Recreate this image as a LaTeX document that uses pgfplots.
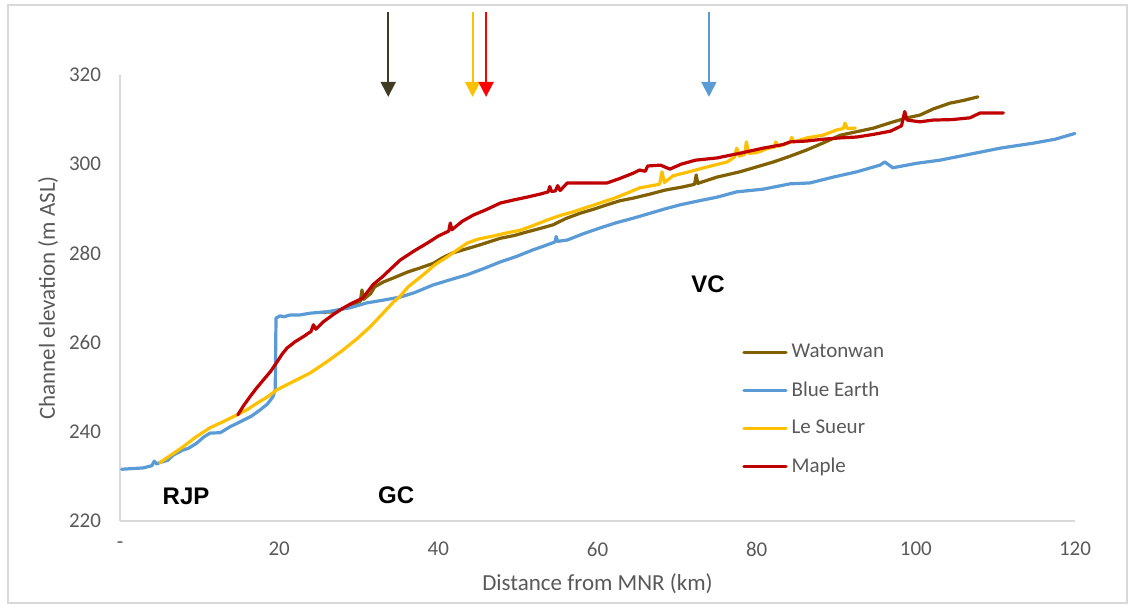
\documentclass[border=0pt]{standalone}
\usepackage{pgfplots}
\pgfplotsset{compat=1.18}
\usepackage{fontspec}
\setmainfont{Carlito}
\newfontfamily\arialfont{Liberation Sans}
\usetikzlibrary{arrows.meta}

\definecolor{watonwan}{HTML}{806000}
\definecolor{blueearth}{HTML}{5B9BD5}
\definecolor{lesueur}{HTML}{FFC000}
\definecolor{maple}{HTML}{C00000}
\definecolor{txtgray}{HTML}{595959}
\definecolor{axgray}{HTML}{D9D9D9}
\definecolor{darkarrow}{HTML}{403C24}

\begin{document}
\begin{tikzpicture}
\begin{axis}[
    scale only axis,
    width=477.5pt, height=223pt,
    xmin=0, xmax=120, ymin=220, ymax=320,
    xtick={0,20,40,60,80,100,120},
    xticklabels={-,20,40,60,80,100,120},
    ytick={220,240,260,280,300,320},
    /pgf/number format/assume math mode=true,
    axis x line*=bottom, axis y line*=left,
    axis line style={axgray, line width=0.75pt, -},
    major tick length=0pt,
    tick label style={font=\fontsize{10.5}{12}\selectfont, text=txtgray},
    xticklabel style={yshift=-7pt},
    yticklabel style={xshift=-6pt},
    label style={font=\fontsize{11.5}{13}\selectfont, text=txtgray},
    xlabel={Distance from MNR (km)},
    ylabel={Channel elevation (m ASL)},
    xlabel style={at={(rel axis cs:0.5,-0.141)}, anchor=center},
    ylabel style={at={(rel axis cs:-0.0754,0.5)}, anchor=center},
    legend style={draw=none, fill=none, at={(rel axis cs:0.645,0.415)}, anchor=north west,
        font=\fontsize{10.5}{12}\selectfont, text=txtgray, row sep=6.5pt},
    legend cell align=left,
    legend image code/.code={\draw[#1, line width=1.6pt] (0pt,0pt) -- (21pt,0pt);},
    every axis plot/.append style={line width=1.6pt, line join=round, line cap=round},
    clip=false,
]

% Watonwan
\addplot[watonwan] coordinates {
    (25.5,266.8) (26.8,266.9) (28.0,267.6) (29.2,268.5) (30.2,269.3) (30.4,271.8) (30.6,269.7)
    (31.5,271.0) (32.0,272.5) (33.1,273.6) (34.5,274.6) (36.1,275.8) (37.8,276.8) (39.4,277.8)
    (40.5,279.0) (41.8,280.1) (43.5,281.0) (45.2,281.9) (47.8,283.4) (49.5,284.0) (51.1,284.8)
    (52.8,285.6) (54.4,286.4) (56.0,287.8) (57.8,289.0) (59.5,289.9) (61.2,290.9) (62.8,291.8)
    (64.5,292.4) (66.6,293.3) (68.5,294.2) (70.7,294.9) (72.2,295.5) (72.4,297.6) (72.6,295.7)
    (75.0,297.1) (77.9,298.3) (80.0,299.4) (82.1,300.5) (84.2,301.8) (86.3,303.2) (88.4,304.8)
    (90.5,306.5) (92.6,307.3) (94.7,308.1) (96.8,309.3) (98.9,310.4) (100.5,311.0) (102.2,312.4)
    (104.3,313.7) (106.0,314.3) (107.8,315.1)};
\addlegendentry{Watonwan}

% Blue Earth
\addplot[blueearth] coordinates {
    (0.2,231.6) (2.9,231.9) (4.0,232.4) (4.3,233.4) (4.6,232.8) (5.0,233.1) (6.0,233.6)
    (6.7,234.8) (7.9,235.9) (8.6,236.3) (9.6,237.4) (10.5,238.8) (11.3,239.7) (12.6,239.8)
    (13.8,241.1) (15.5,242.6) (16.5,243.5) (17.6,244.9) (18.5,246.2) (19.2,247.8) (19.5,249.4)
    (19.6,265.5) (20.1,266.0) (20.6,265.8) (21.4,266.2) (22.6,266.2) (23.9,266.6) (26.0,266.9)
    (28.9,267.8) (31.0,268.9) (33.0,269.5) (35.2,270.2) (37.0,271.2) (39.3,272.9) (41.5,274.1)
    (43.6,275.2) (45.7,276.6) (47.8,278.1) (49.8,279.3) (51.9,280.8) (53.5,281.8) (54.7,282.6)
    (54.8,283.8) (55.0,282.7) (56.2,283.0) (58.2,284.4) (60.3,285.7) (62.4,286.9) (64.5,287.9)
    (66.6,289.0) (68.5,290.0) (70.4,290.9) (72.5,291.7) (75.0,292.6) (77.5,293.8) (80.8,294.4)
    (84.2,295.6) (86.7,295.8) (89.6,297.1) (92.6,298.3) (95.5,299.8) (96.1,300.5) (97.1,299.2)
    (100.1,300.2) (103.0,300.9) (106.4,302.1) (110.6,303.6) (114.7,304.7) (117.5,305.6) (120.0,306.9)};
\addlegendentry{Blue Earth}

% Le Sueur
\addplot[lesueur] coordinates {
    (5.0,233.1) (6.5,234.9) (7.9,236.6) (9.5,238.8) (11.3,240.9) (13.0,242.3) (14.7,243.8)
    (16.0,245.0) (17.2,246.4) (18.5,247.8) (19.7,249.4) (21.8,251.3) (23.9,253.2) (26.0,255.7)
    (28.0,258.3) (29.8,260.9) (31.4,263.5) (33.0,266.5) (34.3,269.0) (35.2,270.4) (36.2,272.5)
    (38.1,275.2) (39.6,277.5) (41.1,279.2) (43.6,282.3) (45.0,283.2) (46.9,283.9) (48.6,284.6)
    (50.3,285.2) (52.0,286.3) (53.7,287.5) (55.3,288.5) (56.9,289.3) (58.6,290.3) (60.3,291.3)
    (62.0,292.3) (63.7,293.5) (65.3,294.7) (67.8,295.5) (68.1,298.3) (68.4,295.9) (69.5,297.4)
    (71.5,298.3) (73.8,299.4) (76.3,300.5) (77.2,301.6) (77.5,303.6) (77.8,301.8) (78.5,302.2)
    (78.7,305.0) (79.0,302.4) (80.0,302.6) (81.5,303.6) (82.2,303.8) (82.4,305.0) (82.7,304.0)
    (84.2,304.9) (84.4,306.0) (84.7,305.0) (86.3,305.9) (88.3,306.5) (90.1,307.7) (90.9,308.0)
    (91.1,309.2) (91.4,308.0) (92.4,308.1)};
\addlegendentry{Le Sueur}

% Maple
\addplot[maple] coordinates {
    (14.8,243.8) (15.5,245.8) (16.3,247.8) (17.2,249.9) (18.0,251.6) (18.9,253.5) (19.7,255.6)
    (20.4,257.5) (21.0,258.8) (22.0,260.2) (23.0,261.3) (24.0,262.5) (24.3,264.0) (24.6,263.0)
    (25.5,264.6) (26.8,266.3) (28.0,267.7) (29.0,268.7) (30.5,270.0) (31.8,273.0) (33.0,274.8)
    (34.0,276.5) (35.2,278.5) (36.9,280.5) (38.6,282.3) (40.0,283.9) (41.3,285.0) (41.5,286.8)
    (41.7,285.3) (43.0,287.2) (44.4,288.6) (46.0,289.8) (47.8,291.3) (49.5,292.0) (51.1,292.6)
    (52.8,293.3) (53.8,293.8) (54.0,295.0) (54.2,293.9) (54.7,294.0) (55.0,295.2) (55.3,294.1)
    (56.2,295.8) (58.5,295.8) (61.2,295.8) (62.8,296.8) (64.5,298.0) (65.3,298.7) (66.0,298.4)
    (66.3,299.6) (67.9,299.8) (69.1,298.9) (70.5,300.0) (72.3,300.9) (75.0,301.4) (78.0,302.5)
    (80.8,303.6) (83.3,304.4) (84.2,305.0) (86.3,305.2) (88.3,305.6) (90.5,305.9) (92.6,306.1)
    (94.7,306.7) (96.8,307.4) (98.2,308.6) (98.6,311.8) (98.9,309.9) (100.5,309.5) (102.2,309.9)
    (104.5,310.0) (106.8,310.4) (107.5,311.0) (108.1,311.5) (111.0,311.5)};
\addlegendentry{Maple}

% annotations
\draw[darkarrow, line width=1pt, -{Triangle[width=7.5pt,length=7.5pt]}] (axis cs:33.7,334.2) -- (axis cs:33.7,315.1);
\draw[lesueur, line width=1pt, -{Triangle[width=7.5pt,length=7.5pt]}] (axis cs:44.3,334.2) -- (axis cs:44.3,315.1);
\draw[red, line width=1pt, -{Triangle[width=7.5pt,length=7.5pt]}] (axis cs:46.0,334.2) -- (axis cs:46.0,315.1);
\draw[blueearth, line width=1pt, -{Triangle[width=7.5pt,length=7.5pt]}] (axis cs:74.0,334.2) -- (axis cs:74.0,315.1);

\node[font=\arialfont\bfseries\fontsize{12}{14}\selectfont] at (axis cs:8.3,225.5) {RJP};
\node[font=\arialfont\bfseries\fontsize{12}{14}\selectfont] at (axis cs:34.7,225.8) {GC};
\node[font=\arialfont\bfseries\fontsize{12}{14}\selectfont] at (axis cs:73.9,273.0) {VC};

% chart frame and page extent
\draw[axgray, line width=1pt] (rel axis cs:-0.1173,-0.1839) rectangle (rel axis cs:1.0545,1.157);
\path (rel axis cs:-0.1257,-0.1883) rectangle (rel axis cs:1.0576,1.1682);
\end{axis}
\end{tikzpicture}
\end{document}
